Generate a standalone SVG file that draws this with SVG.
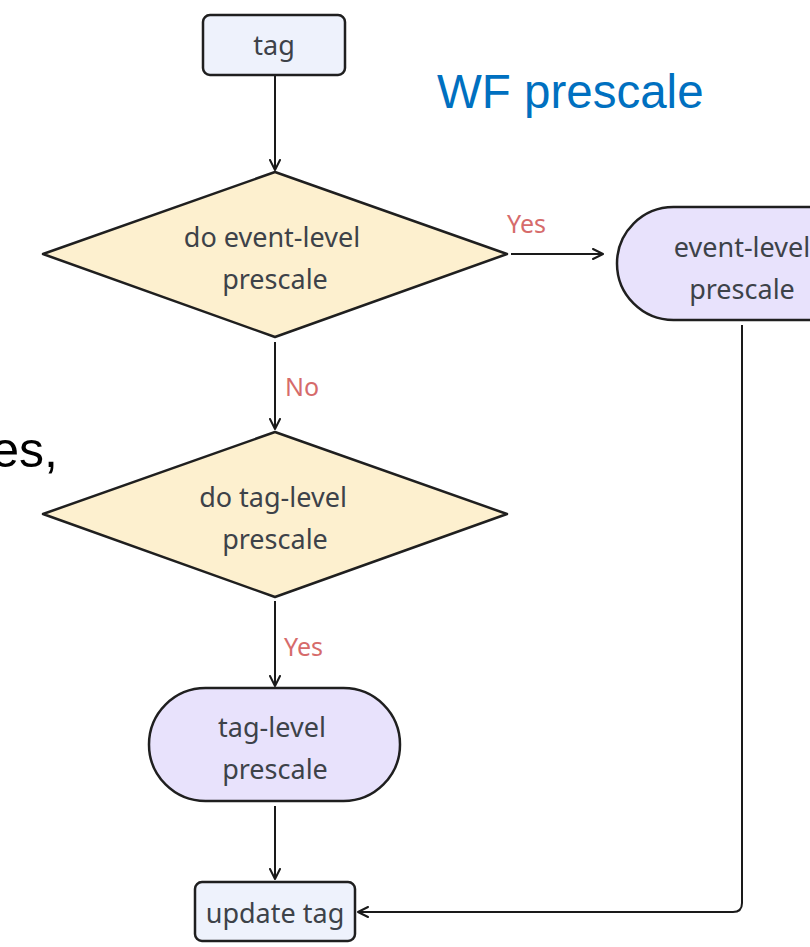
<svg xmlns="http://www.w3.org/2000/svg" width="810" height="947" viewBox="0 0 810 947">
  <defs>
    <marker id="arrow" viewBox="0 0 12 12" refX="11" refY="6" markerWidth="12" markerHeight="12" markerUnits="userSpaceOnUse" orient="auto">
      <path d="M1,1 L11,6 L1,11" fill="none" stroke="#1a1a1a" stroke-width="2" stroke-linecap="round" stroke-linejoin="round"/>
    </marker>
  </defs>
  <style>
    .box { fill: #eef2fc; stroke: #1f1f1f; stroke-width: 2.5; }
    .decision { fill: #fdf0cf; stroke: #1f1f1f; stroke-width: 2.5; stroke-linejoin: round; }
    .terminal { fill: #e8e2fc; stroke: #1f1f1f; stroke-width: 2.5; }
    .label { font-family: "Noto Sans", "Open Sans", sans-serif; font-size: 27px; fill: #3d4249; text-anchor: middle; }
    .edge { fill: none; stroke: #1a1a1a; stroke-width: 2; marker-end: url(#arrow); }
    .edge-label { font-family: "Noto Sans", "Open Sans", sans-serif; font-size: 25px; fill: #d66b6b; }
    .slide { font-family: "Liberation Sans", Arial, sans-serif; }
  </style>

  <rect width="810" height="947" fill="#ffffff"/>

  <!-- slide text around the flowchart -->
  <text class="slide" x="437" y="108" font-size="47.5" fill="#0070c0">WF prescale</text>
  <text class="slide" x="58" y="467" font-size="50" fill="#000000" text-anchor="end">es,</text>

  <!-- connectors -->
  <g id="connectors">
    <path class="edge" d="M275,76 V170"/>
    <path class="edge" d="M275,342 V429"/>
    <path class="edge" d="M511,254 H603"/>
    <path class="edge" d="M275,601 V686"/>
    <path class="edge" d="M275,806 V879"/>
    <path class="edge" d="M742,325 V903 Q742,912 733,912 H358"/>
    <text class="edge-label" x="507" y="233">Yes</text>
    <text class="edge-label" x="285" y="396">No</text>
    <text class="edge-label" x="284" y="656">Yes</text>
  </g>

  <g id="tag">
    <rect class="box" x="203" y="15" width="142" height="60" rx="7"/>
    <text class="label" x="274" y="55">tag</text>
  </g>

  <g id="event-level-decision">
    <polygon class="decision" points="275,172 507,254 275,337 43,254"/>
    <text class="label" x="272" y="247">do event-level</text>
    <text class="label" x="275" y="289">prescale</text>
  </g>

  <g id="event-level-prescale">
    <rect class="terminal" x="617" y="207" width="251" height="113" rx="56.5"/>
    <text class="label" x="742" y="257">event-level</text>
    <text class="label" x="742" y="299">prescale</text>
  </g>

  <g id="tag-level-decision">
    <polygon class="decision" points="275,432 507,514 275,597 43,514"/>
    <text class="label" x="273" y="507">do tag-level</text>
    <text class="label" x="275" y="549">prescale</text>
  </g>

  <g id="tag-level-prescale">
    <rect class="terminal" x="149" y="688" width="251" height="113" rx="56.5"/>
    <text class="label" x="272" y="737">tag-level</text>
    <text class="label" x="275" y="779">prescale</text>
  </g>

  <g id="update-tag">
    <rect class="box" x="195" y="882" width="160" height="59" rx="7"/>
    <text class="label" x="275" y="923">update tag</text>
  </g>
</svg>
